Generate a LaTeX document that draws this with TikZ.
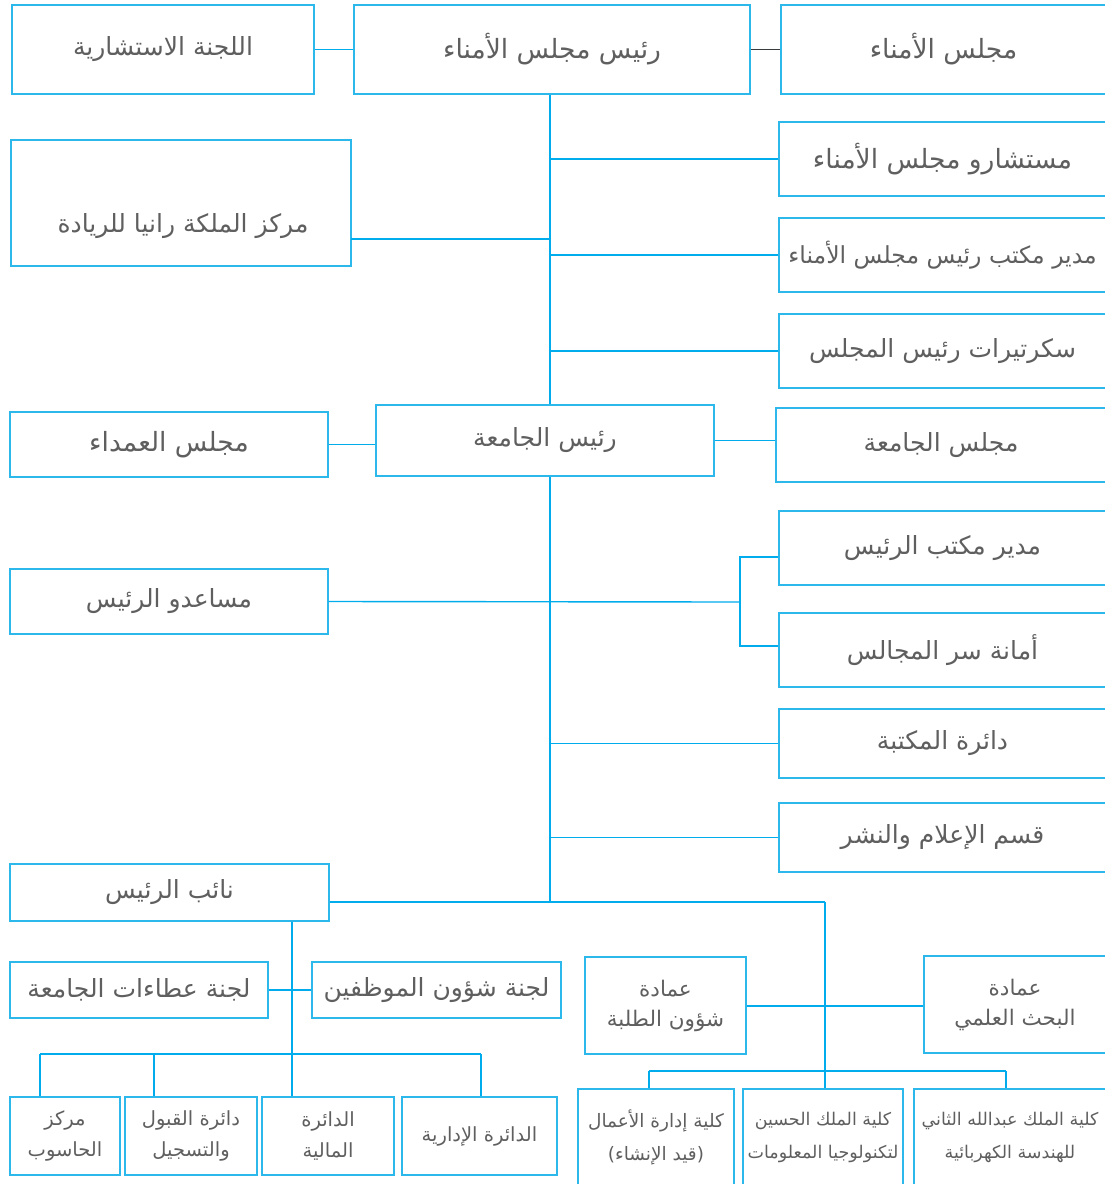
\documentclass[tikz,border=0pt]{standalone}
\usepackage{fontspec}
\newfontfamily\arabicfont[Script=Arabic]{DejaVu Sans}
\TeXXeTstate=1
\newcommand\AR[1]{\beginR #1\endR}
\definecolor{boxc}{RGB}{45,184,236}
\definecolor{linec}{RGB}{0,172,236}
\definecolor{darkc}{RGB}{55,60,65}
\definecolor{txtc}{RGB}{95,95,95}
\tikzset{
  box/.style={draw=boxc, line width=1.4pt, inner sep=0pt, text=txtc, align=center,
    font=\arabicfont\fontsize{25}{30}\selectfont},
  bigbox/.style={box, font=\arabicfont\fontsize{26.5}{30}\selectfont},
  midbox/.style={box, font=\arabicfont\fontsize{23.5}{30}\selectfont},
  deanbox/.style={box, font=\arabicfont\fontsize{21.5}{30}\selectfont},
  leftbox/.style={box, font=\arabicfont\fontsize{19.5}{31}\selectfont},
  collbox/.style={box, font=\arabicfont\fontsize{18.5}{33}\selectfont},
  collboxs/.style={box, font=\arabicfont\fontsize{17.5}{33}\selectfont},
  conn/.style={draw=linec, line width=1.4pt},
  trunkline/.style={draw=linec, line width=2.2pt},
  lbl/.style={inner sep=0pt, text=txtc, align=center, font=\arabicfont\fontsize{25}{30}\selectfont},
}
\newcommand\mybox[7][box]{\node[#1, minimum width={#5-#3}, minimum height={#6-#4}] (#2) at ({(#3+#5)/2},{(#4+#6)/2}) {#7};}
\begin{document}
\begin{tikzpicture}[x=1pt,y=-1pt]
\useasboundingbox (0,0) rectangle (1104,1184);
% top row
\mybox{adv}{12}{5}{314}{94}{\AR{اللجنة الاستشارية}}
\mybox[bigbox]{pb}{354}{5}{750}{94}{\AR{رئيس مجلس الأمناء}}
\mybox[bigbox]{boa}{781}{5}{1106}{94}{\AR{مجلس الأمناء}}
% board side
\mybox[bigbox]{csl}{779}{122}{1106}{196}{\AR{مستشارو مجلس الأمناء}}
\mybox{qr}{11}{140}{351}{266}{}
\node[lbl] at (183,226) {\AR{مركز الملكة رانيا للريادة}};
\mybox[midbox]{dir}{779}{218}{1106}{292}{\AR{مدير مكتب رئيس مجلس الأمناء}}
\mybox{sec}{779}{314}{1106}{388}{\AR{سكرتيرات رئيس المجلس}}
% rector level
\mybox{rect}{376}{405}{714}{476}{\AR{رئيس الجامعة}}
\mybox[bigbox]{deans}{10}{412}{328}{477}{\AR{مجلس العمداء}}
\mybox{uc}{776}{408}{1106}{482}{\AR{مجلس الجامعة}}
\mybox{dpo}{779}{511}{1106}{585}{\AR{مدير مكتب الرئيس}}
\mybox{asst}{10}{569}{328}{634}{\AR{مساعدو الرئيس}}
\mybox{sa}{779}{613}{1106}{687}{\AR{أمانة سر المجالس}}
\mybox{lib}{779}{709}{1106}{778}{\AR{دائرة المكتبة}}
\mybox{med}{779}{803}{1106}{872}{\AR{قسم الإعلام والنشر}}
\mybox{vp}{10}{864}{329}{921}{\AR{نائب الرئيس}}
% vice president branch
\mybox{tender}{10}{962}{268}{1018}{\AR{لجنة عطاءات الجامعة}}
\mybox{staff}{312}{962}{561}{1018}{\AR{لجنة شؤون الموظفين}}
\mybox[leftbox]{comp}{10}{1097}{120}{1175}{\AR{مركز}\\\AR{الحاسوب}}
\mybox[leftbox]{adm}{125}{1097}{257}{1175}{\AR{دائرة القبول}\\\AR{والتسجيل}}
\mybox[leftbox]{fin}{262}{1097}{394}{1175}{\AR{الدائرة}\\\AR{المالية}}
\mybox[leftbox]{admin}{402}{1097}{557}{1175}{\AR{الدائرة الإدارية}}
% deanships and colleges
\mybox[deanbox]{stud}{585}{957}{746}{1054}{\AR{عمادة}\\\AR{شؤون الطلبة}}
\mybox[deanbox]{res}{924}{956}{1106}{1053}{\AR{عمادة}\\\AR{البحث العلمي}}
\mybox[collbox]{bus}{578}{1089}{734}{1186}{\AR{كلية إدارة الأعمال}\\\AR{(قيد الإنشاء)}}
\mybox[collboxs]{kh}{743}{1089}{903}{1186}{\AR{كلية الملك الحسين}\\\AR{لتكنولوجيا المعلومات}}
\mybox[collboxs]{ka}{914}{1089}{1106}{1186}{\AR{كلية الملك عبدالله الثاني}\\\AR{للهندسة الكهربائية}}
% coordinates
\coordinate (T) at (550,0);
\coordinate (qrc) at (351,239);
\coordinate (b1) at (740,557);
\coordinate (b2) at (740,646);
\coordinate (bm) at (740,602);
\coordinate (J) at (825,902);
\coordinate (K) at (825,1071);
\coordinate (V) at (292,1054);
\coordinate (d1) at (40,1054);
\coordinate (d2) at (154,1054);
\coordinate (d4) at (481,1054);
\coordinate (e1) at (649,1071);
\coordinate (e3) at (1006,1071);
\coordinate (M) at (825,1006);
% connectors
\draw[conn] (adv.east) -- (pb.west);
\draw[draw=darkc, line width=1.6pt] (pb.east) -- (boa.west);
\draw[trunkline] (pb.south -| T) -- (rect.north -| T);
\draw[conn] (csl.west) -- (csl.west -| T);
\draw[conn] (dir.west) -- (dir.west -| T);
\draw[conn] (sec.west) -- (sec.west -| T);
\draw[conn] (qrc) -- (qrc -| T);
\draw[conn] (deans.east) -- (deans.east -| rect.west);
\draw[conn] (rect.east) -- (rect.east -| uc.west);
\draw[conn] (asst.east) -- (bm);
\draw[conn] (dpo.west |- b1) -- (b1) -- (b2) -- (sa.west |- b2);
\draw[conn] (lib.west) -- (lib.west -| T);
\draw[conn] (med.west) -- (med.west -| T);
\draw[trunkline] (rect.south -| T) -- (T |- J);
\draw[trunkline] (vp.east |- J) -- (J);
\draw[conn] (J) -- (K);
\draw[conn] (stud.east |- M) -- (res.west |- M);
\draw[conn] (e1) -- (e3);
\draw[conn] (e1) -- (e1 |- bus.north);
\draw[conn] (K) -- (K |- kh.north);
\draw[conn] (e3) -- (e3 |- ka.north);
\draw[draw=linec, line width=2pt] (vp.south -| V) -- (V);
\draw[conn] (tender.east) -- (staff.west);
\draw[conn] (d1) -- (d4);
\draw[conn] (d1) -- (d1 |- comp.north);
\draw[conn] (d2) -- (d2 |- adm.north);
\draw[conn] (V) -- (V |- fin.north);
\draw[conn] (d4) -- (d4 |- admin.north);
\end{tikzpicture}
\end{document}
